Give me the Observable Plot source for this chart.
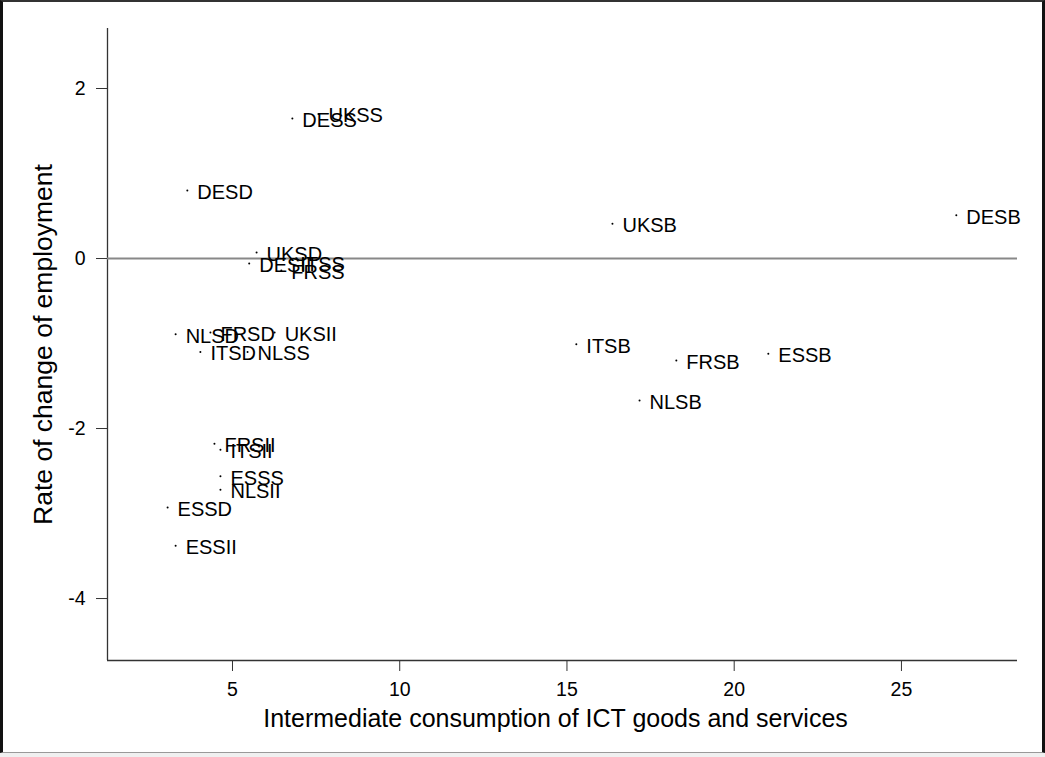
<!DOCTYPE html>
<html>
<head>
<meta charset="utf-8">
<script src="https://cdn.jsdelivr.net/npm/d3@7"></script>
<script src="https://cdn.jsdelivr.net/npm/@observablehq/plot@0.6"></script>
<style>
  html, body { margin: 0; padding: 0; background: #f0f0f0; }
  #wrap { position: absolute; left: 0; top: 0; width: 1045px; height: 753px; box-sizing: border-box;
          border-left: 3px solid #111; border-right: 3px solid #111; border-top: 2px solid #333; border-bottom: 1px solid #999; background: #fff; }
  #chart { position: absolute; left: 0; top: 0; }
  svg { font-family: "Liberation Sans", Arial, Helvetica, sans-serif; }
</style>
</head>
<body>
<div id="wrap"></div>
<div id="chart"></div>
<script>
const labels = ["DESS","UKSS","DESD","UKSD","DESII","ITSS","FRSS","NLSD","FRSD","UKSII","ITSD","NLSS",
                "ITSB","FRSB","ESSB","NLSB","UKSB","DESB","FRSII","ITSII","ESSS","NLSII","ESSD","ESSII"];
const ictConsumption = [6.79, 7.57, 3.65, 5.72, 5.50, 6.73, 6.46, 3.30, 4.34, 6.26, 4.04, 5.45,
                        15.28, 18.27, 21.02, 17.17, 16.36, 26.64, 4.46, 4.64, 4.64, 4.64, 3.06, 3.30];
const employmentChange = [1.647, 1.70, 0.80, 0.07, -0.06, -0.05, -0.14, -0.89, -0.87, -0.87, -1.10, -1.10,
                          -1.01, -1.20, -1.12, -1.67, 0.41, 0.51, -2.18, -2.25, -2.56, -2.72, -2.93, -3.38];
const xTicks = [5, 10, 15, 20, 25];
const yTicks = [-4, -2, 0, 2];
const xDomain = [1.263, 28.47];
const yDomain = [-4.729, 2.706];
const refLine = [0];

const data = labels.map((l, i) => ({label: l, x: ictConsumption[i], y: employmentChange[i]}));

const chart = Plot.plot({
  width: 1045,
  height: 752,
  marginLeft: 107,
  marginRight: 28,
  marginTop: 28,
  marginBottom: 92,
  style: {background: "transparent", fontFamily: "Liberation Sans, Arial, sans-serif", fontSize: "19px", color: "#000"},
  x: {domain: xDomain},
  y: {domain: yDomain},
  marks: [
    Plot.axisX({ticks: xTicks, tickSize: 11, tickPadding: 11, fontSize: 19.5, stroke: "#333", fill: "#000",
                label: "Intermediate consumption of ICT goods and services", labelAnchor: "center", labelOffset: 66, labelArrow: "none"}),
    Plot.axisY({ticks: yTicks, tickFormat: d => String(d), tickSize: 11, tickPadding: 11, fontSize: 19.5, stroke: "#333", fill: "#000",
                label: "Rate of change of employment", labelAnchor: "center", labelOffset: 74, labelArrow: "none"}),
    Plot.ruleX([xDomain[0]], {stroke: "#333", strokeWidth: 1.3}),
    Plot.ruleY([yDomain[0]], {stroke: "#333", strokeWidth: 1.3}),
    Plot.ruleY(refLine, {stroke: "#888", strokeWidth: 2}),
    Plot.dot(data, {x: "x", y: "y", r: 1, fill: "#000", stroke: null}),
    Plot.text(data, {x: "x", y: "y", text: "label", textAnchor: "start", dx: 10, dy: 2, fontSize: 20, fill: "#000"})
  ]
});
document.getElementById("chart").appendChild(chart);
chart.querySelectorAll('[aria-label="x-axis label"] text').forEach(t => { t.setAttribute("font-size", "25"); t.setAttribute("dx", "-7"); });
chart.querySelectorAll('[aria-label="y-axis label"] text').forEach(t => { t.setAttribute("font-size", "26.5"); });
</script>
</body>
</html>
